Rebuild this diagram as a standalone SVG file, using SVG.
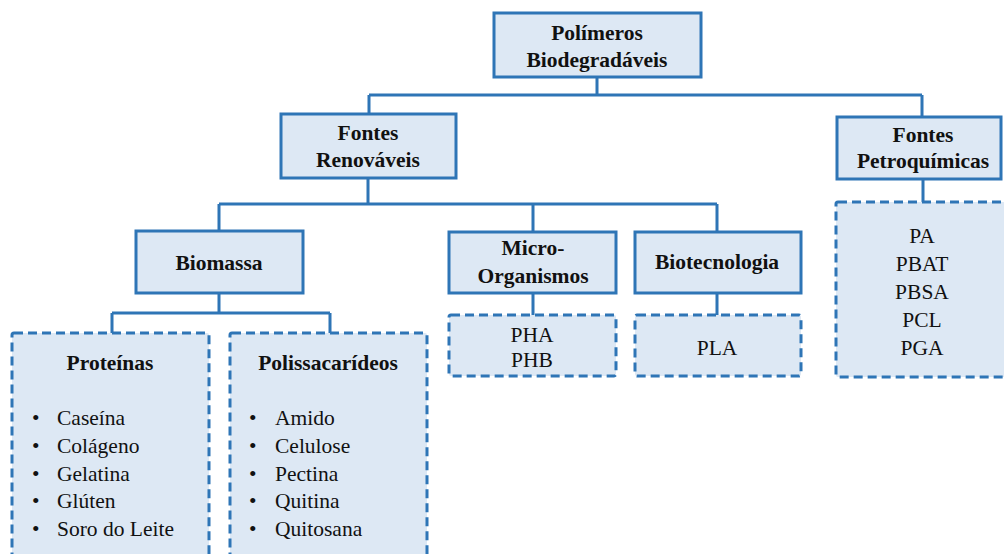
<svg xmlns="http://www.w3.org/2000/svg" width="1004" height="554" viewBox="0 0 1004 554">
<style>
.box{fill:#dde8f4;stroke:#2e75b6;stroke-width:3}
.dash{fill:#dde8f4;stroke:#2e75b6;stroke-width:3;stroke-dasharray:9 5}
.conn{fill:none;stroke:#2e75b6;stroke-width:3}
text{font-family:"Liberation Serif","Times New Roman",serif;font-size:21.5px;fill:#111}
.b{font-weight:bold;text-anchor:middle}
.c{text-anchor:middle}
</style>
<rect width="1004" height="554" fill="#ffffff"/>
<g id="connectors">
<path class="conn" d="M597 77V95M369 95H922M369 95V114M922 95V117"/>
<path class="conn" d="M368 178V204M219 204H717M219 204V231M533 204V232M717 204V232"/>
<path class="conn" d="M219 293V313M112 313H330M112 313V333M330 313V333"/>
<path class="conn" d="M533 293V315M717 293V315M923 179V202"/>
</g>
<g id="n-polimeros">
<rect class="box" x="494" y="13" width="207" height="64"/>
<text class="b" x="597" y="40">Polímeros</text>
<text class="b" x="597" y="67">Biodegradáveis</text>
</g>
<g id="n-renovaveis">
<rect class="box" x="281" y="114" width="175" height="64"/>
<text class="b" x="368" y="140">Fontes</text>
<text class="b" x="368" y="167">Renováveis</text>
</g>
<g id="n-petro">
<rect class="box" x="837" y="117" width="164" height="62"/>
<text class="b" x="923" y="142">Fontes</text>
<text class="b" x="923" y="168">Petroquímicas</text>
</g>
<g id="n-petro-list">
<rect class="dash" x="836" y="202" width="180" height="175" rx="2"/>
<text class="c" x="922" y="243">PA</text>
<text class="c" x="922" y="271">PBAT</text>
<text class="c" x="922" y="299">PBSA</text>
<text class="c" x="922" y="327">PCL</text>
<text class="c" x="922" y="355">PGA</text>
</g>
<g id="n-biomassa">
<rect class="box" x="136" y="231" width="167" height="62"/>
<text class="b" x="219" y="270">Biomassa</text>
</g>
<g id="n-micro">
<rect class="box" x="449" y="232" width="167" height="61"/>
<text class="b" x="533" y="255">Micro-</text>
<text class="b" x="533" y="283">Organismos</text>
</g>
<g id="n-biotec">
<rect class="box" x="635" y="232" width="166" height="61"/>
<text class="b" x="717" y="269">Biotecnologia</text>
</g>
<g id="n-pha">
<rect class="dash" x="449" y="315" width="167" height="61" rx="2"/>
<text class="c" x="532" y="342">PHA</text>
<text class="c" x="532" y="367">PHB</text>
</g>
<g id="n-pla">
<rect class="dash" x="635" y="315" width="166" height="61" rx="2"/>
<text class="c" x="717" y="355">PLA</text>
</g>
<g id="n-proteinas">
<rect class="dash" x="12" y="333" width="197" height="235" rx="2"/>
<text class="b" x="110" y="370">Proteínas</text>
<text x="32" y="425">•</text><text x="57" y="425">Caseína</text>
<text x="32" y="453">•</text><text x="57" y="453">Colágeno</text>
<text x="32" y="481">•</text><text x="57" y="481">Gelatina</text>
<text x="32" y="508">•</text><text x="57" y="508">Glúten</text>
<text x="32" y="536">•</text><text x="57" y="536">Soro do Leite</text>
</g>
<g id="n-polissacarideos">
<rect class="dash" x="230" y="333" width="197" height="235" rx="2"/>
<text class="b" x="328" y="370">Polissacarídeos</text>
<text x="249" y="425">•</text><text x="275" y="425">Amido</text>
<text x="249" y="453">•</text><text x="275" y="453">Celulose</text>
<text x="249" y="481">•</text><text x="275" y="481">Pectina</text>
<text x="249" y="508">•</text><text x="275" y="508">Quitina</text>
<text x="249" y="536">•</text><text x="275" y="536">Quitosana</text>
</g>
</svg>
